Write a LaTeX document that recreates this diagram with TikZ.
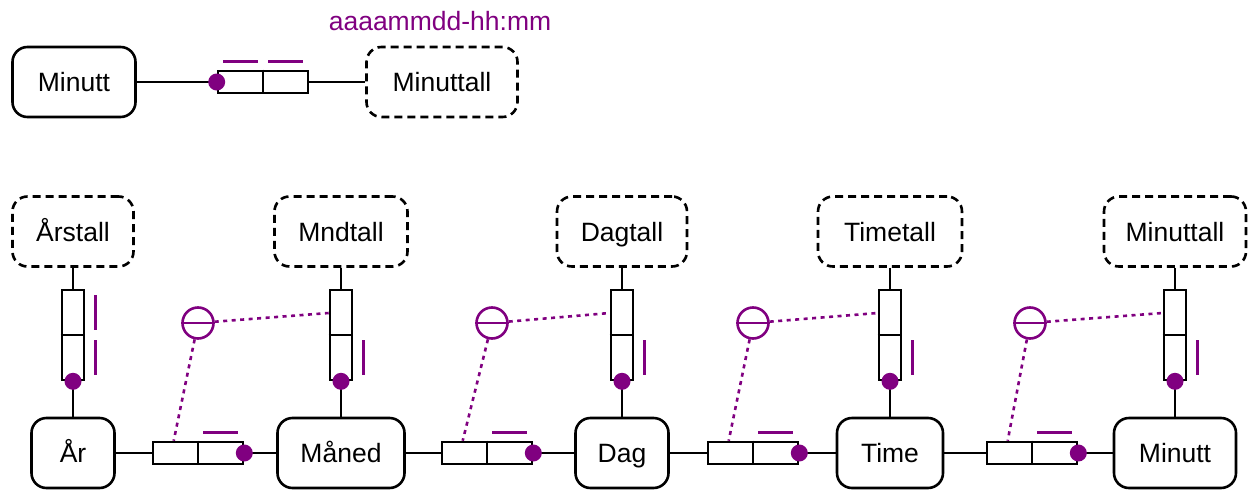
\documentclass[tikz,border=0pt]{standalone}
\usepackage{fontspec}
\setmainfont{Liberation Sans}
\usetikzlibrary{calc}
\definecolor{pu}{RGB}{128,0,128}
\newcommand\dfont{\fontsize{26.5}{30}\selectfont}
\begin{document}
\begin{tikzpicture}[x=1pt,y=-1pt,
 ent/.style={draw, line width=2.6pt, rounded corners=15pt, minimum height=70pt, inner sep=0pt, font=\dfont, text height=19pt, text depth=0pt},
 val/.style={ent, dash pattern=on 8pt off 5pt},
 relbox/.style={draw, line width=2.6pt, inner sep=0pt, fill=white},
 hrel/.style={relbox, minimum width=90pt, minimum height=22pt},
 vrel/.style={relbox, minimum width=22pt, minimum height=90pt},
 conn/.style={line width=2.6pt},
 dotn/.style={circle, fill=pu, inner sep=0pt, minimum size=17pt},
 bar/.style={draw=pu, line width=3pt},
 subc/.style={circle, draw=pu, line width=2.6pt, minimum size=31pt, inner sep=0pt},
 dotl/.style={draw=pu, line width=2.6pt, dash pattern=on 4pt off 4.5pt}
]
\useasboundingbox (0,0) rectangle (1248,490);

% ---------- top part ----------
\node[text=pu, font=\dfont, text height=19pt, text depth=0pt, inner sep=0pt] (fmt) at (440,21) {aaaammdd-hh:mm};
\node[ent, minimum width=123pt] (tmin) at (74,82) {Minutt};
\node[val, minimum width=151pt] (tminv) at (442,82) {Minuttall};
\node[hrel] (trel) at (263,82) {};
\draw[conn] (trel.north) -- (trel.south);
\draw[conn] (tmin) -- (trel.west);
\draw[conn] (trel.east) -- (tminv);
\node[dotn] (tdot) at (trel.west) {};
\draw[bar] (223,61) -- (258,61);
\draw[bar] (268,61) -- (303,61);

% ---------- value boxes ----------
\node[val, minimum width=121pt] (arstall) at (73,231.5) {Årstall};
\node[val, minimum width=133pt] (mndtall) at (341,231.5) {Mndtall};
\node[val, minimum width=130pt] (dagtall) at (622,231.5) {Dagtall};
\node[val, minimum width=144pt] (timetall) at (890,231.5) {Timetall};
\node[val, minimum width=142pt] (minuttall) at (1175,231.5) {Minuttall};

% ---------- entity boxes ----------
\node[ent, minimum width=83pt] (ar) at (73,453) {År};
\node[ent, minimum width=127pt] (maned) at (341,453) {Måned};
\node[ent, minimum width=93pt] (dag) at (622,453) {Dag};
\node[ent, minimum width=106pt] (time) at (890,453) {Time};
\node[ent, minimum width=122pt] (minutt) at (1175,453) {Minutt};

% ---------- subset circles ----------
\node[subc] (c1) at (198,323) {};
\node[subc] (c2) at (492,323) {};
\node[subc] (c3) at (753,323) {};
\node[subc] (c4) at (1030,323) {};
\foreach \c in {c1,c2,c3,c4}{\draw[pu, line width=2.6pt] (\c.west) -- (\c.east);}

% ---------- vertical relation boxes ----------
\foreach \n/\x/\v/\e in {v1/73/arstall/ar, v2/341/mndtall/maned, v3/622/dagtall/dag, v4/890/timetall/time, v5/1175/minuttall/minutt}{
  \node[vrel] (\n) at (\x,335) {};
  \draw[conn] (\n.west) -- (\n.east);
  \draw[conn] (\v) -- (\n);
  \draw[conn] (\n.south) -- (\e);
  \draw[bar] (\x+22,340) -- (\x+22,375);
}
\draw[bar] (95,295) -- (95,330);

% ---------- horizontal relation boxes ----------
\foreach \n/\x/\a/\b in {h1/198/ar/maned, h2/487/maned/dag, h3/753/dag/time, h4/1032/time/minutt}{
  \node[hrel] (\n) at (\x,453) {};
  \draw[conn] (\n.north) -- (\n.south);
  \draw[conn] (\a) -- (\n.west);
  \draw[conn] (\n.east) -- (\b);
  \draw[bar] (\x+5,432) -- (\x+40,432);
}

% dotted subset links
\foreach \c/\h/\v in {c1/h1/v2, c2/h2/v3, c3/h3/v4, c4/h4/v5}{
  \coordinate (\c-a) at ($(\h.north west)+(22,0)$);
  \coordinate (\c-b) at ($(\v.west)+(0,-22)$);
  \draw[dotl] (\c) -- (\c-a);
  \draw[dotl] (\c) -- (\c-b);
}

% dots
\foreach \n in {v1,v2,v3,v4,v5}{\node[dotn] at (\n.south) {};}
\foreach \n in {h1,h2,h3,h4}{\node[dotn] at (\n.east) {};}
\end{tikzpicture}
\end{document}
